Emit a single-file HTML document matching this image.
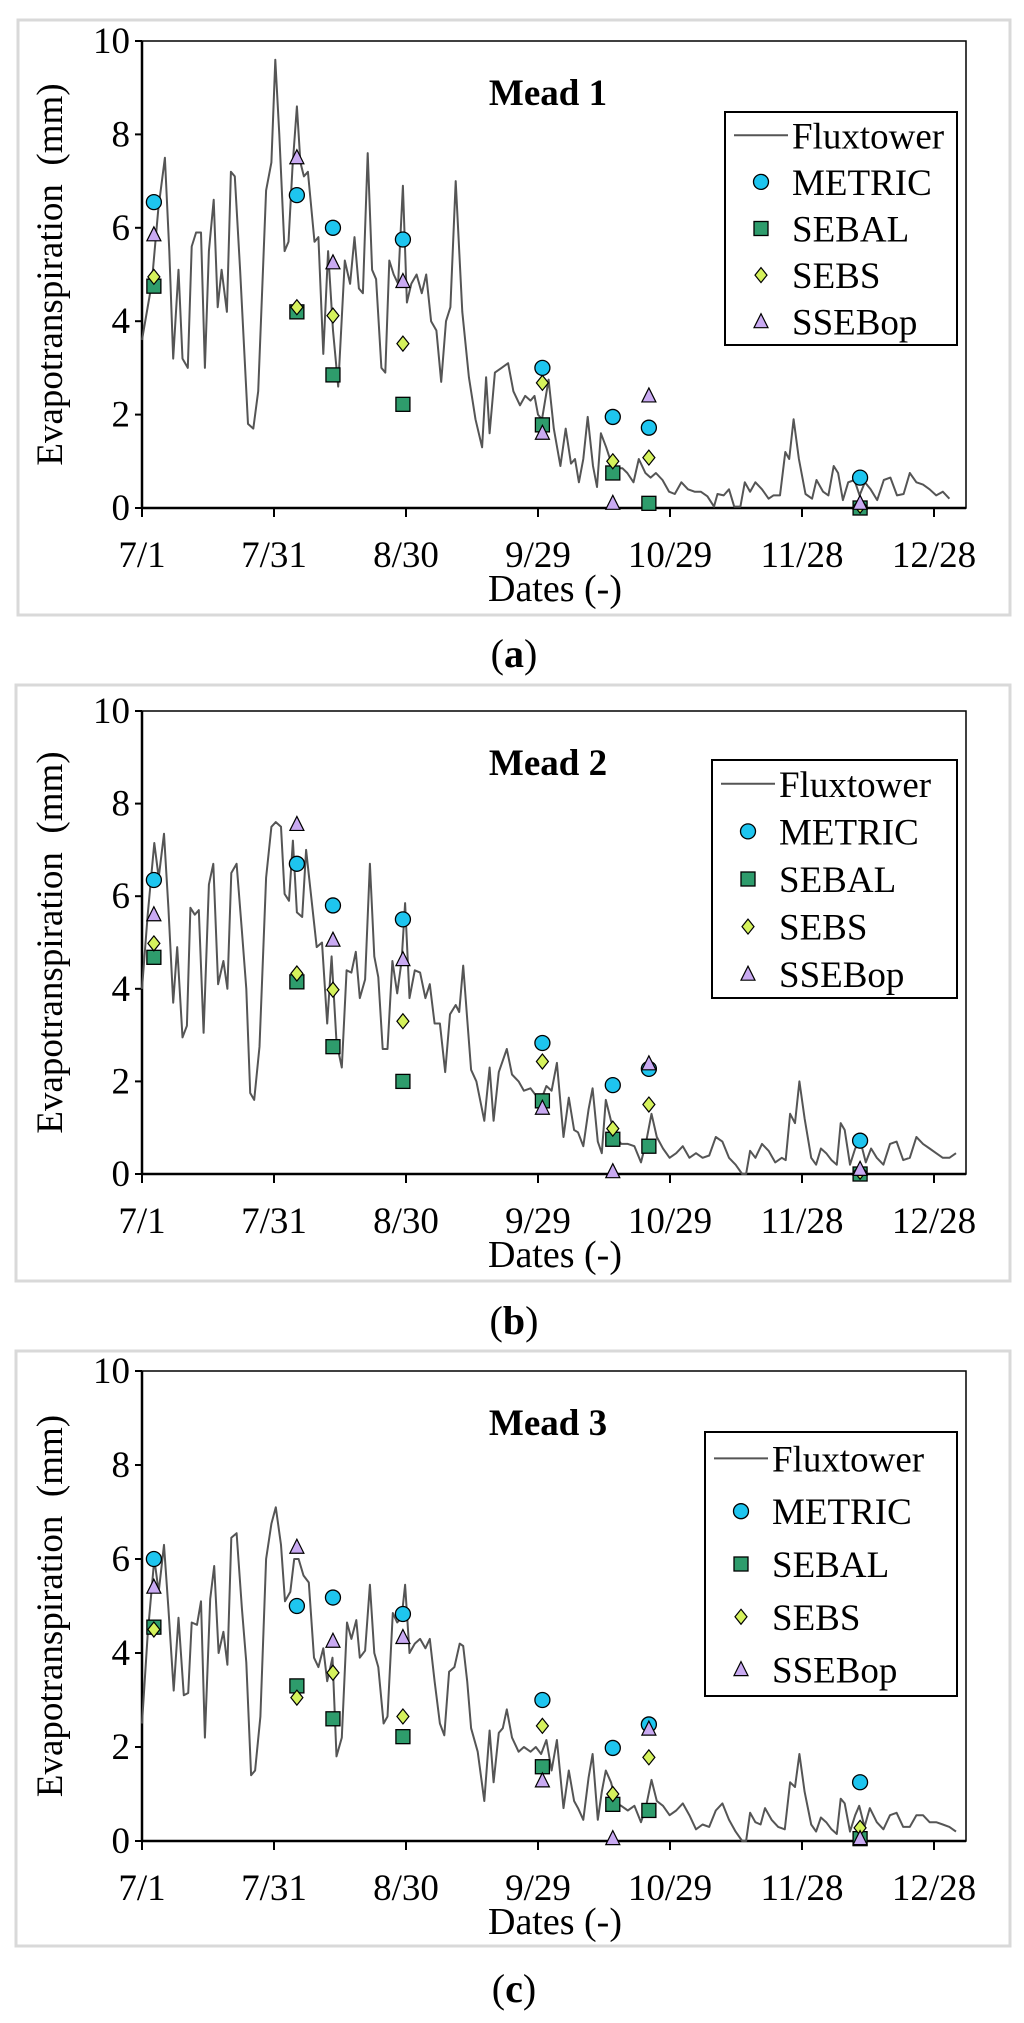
<!DOCTYPE html>
<html><head><meta charset="utf-8"><style>
html,body{margin:0;padding:0;background:#fff;}
svg{display:block;font-family:"Liberation Serif",serif;}
</style></head>
<body>
<svg id="fig" width="1024" height="2023" viewBox="0 0 1024 2023" xmlns="http://www.w3.org/2000/svg"></svg>
<script>
// ---- data ----
const xTickLabels = ["7/1","7/31","8/30","9/29","10/29","11/28","12/28"];
const yTickLabels = ["0","2","4","6","8","10"];
const modelDays = [2.7,35.2,43.4,59.3,91,107,115.2,163.2];
const seriesNames = ["METRIC","SEBAL","SEBS","SSEBop"];

const fluxA = [[0,3.6],[2.2,4.8],[3.7,6.4],[5.2,7.5],[6.2,5.5],[7.1,3.2],[8.3,5.1],[9.2,3.2],[10.4,3.0],[11.3,5.6],[12.3,5.9],[13.4,5.9],[14.3,3.0],[15.2,5.5],[16.3,6.6],[17.2,4.3],[18.1,5.1],[19.3,4.2],[20.2,7.2],[21.1,7.1],[22.3,5.1],[24.1,1.8],[25.3,1.7],[26.4,2.5],[28.2,6.8],[29.4,7.4],[30.3,9.6],[31.2,8.0],[32.4,5.5],[33.3,5.7],[34.2,7.3],[35.2,8.6],[36,7.4],[36.8,7.1],[37.7,7.2],[39.2,5.7],[40.1,5.8],[41.2,3.3],[42.3,5.5],[43.4,3.8],[44.6,2.6],[46.1,5.3],[47.3,4.8],[48.3,5.8],[49.3,4.7],[50.2,4.6],[51.3,7.6],[52.3,5.1],[53.2,4.9],[54.4,3.0],[55.3,2.9],[56.2,5.3],[57.2,5.0],[58.2,4.8],[59.3,6.9],[60.2,4.4],[61.2,4.8],[62.4,5.0],[63.6,4.6],[64.6,5.0],[65.7,4.0],[66.9,3.8],[68,2.7],[69.1,4.0],[70.1,4.3],[71.3,7.0],[72.8,4.2],[74.3,2.8],[75.8,1.9],[77.3,1.3],[78.2,2.8],[79.0,1.6],[80.2,2.9],[81.7,3.0],[83.2,3.1],[84.4,2.5],[85.9,2.2],[87.1,2.4],[88.3,2.3],[89.2,2.4],[90.0,2.0],[90.9,1.9],[92.4,2.75],[93.6,1.7],[95.1,0.9],[96.3,1.7],[97.5,0.95],[98.4,1.05],[99.3,0.55],[100.3,1.05],[101.3,1.95],[102.5,0.9],[103.4,0.45],[104.3,1.6],[105.5,1.3],[106.7,0.95],[107.9,0.85],[109.2,0.85],[110.3,0.75],[111.7,0.55],[112.9,1.05],[114.4,0.75],[115.6,0.65],[116.8,0.75],[118.3,0.6],[119.8,0.35],[121.1,0.3],[122.6,0.55],[124.1,0.4],[125.6,0.35],[127,0.35],[128.5,0.25],[130,0.03],[130.8,0.3],[132.2,0.27],[133.4,0.4],[134.6,0.03],[136,0.03],[137,0.55],[138.2,0.35],[139.4,0.55],[140.9,0.4],[142.4,0.2],[143.5,0.27],[145,0.27],[146.2,1.2],[147.1,1.05],[148.1,1.9],[149.3,1.05],[150.8,0.3],[152.3,0.2],[153.3,0.6],[154.8,0.35],[156,0.27],[157.2,0.9],[158.2,0.75],[159.3,0.17],[160.5,0.55],[161.9,0.6],[163.1,0.27],[164.3,0.55],[165.6,0.4],[167.1,0.17],[168.6,0.6],[170.1,0.65],[171.6,0.27],[173.1,0.3],[174.5,0.75],[176,0.55],[177.5,0.5],[179,0.4],[180.5,0.27],[182,0.35],[183.5,0.2]];
const fluxB = [[0,4.0],[1.3,5.6],[2.8,7.15],[3.8,6.4],[5,7.35],[6,5.75],[7.1,3.7],[8,4.9],[9.2,2.95],[10.2,3.2],[11,5.75],[12,5.6],[12.9,5.7],[14,3.05],[15.2,6.25],[16.2,6.7],[17.3,4.1],[18.5,4.6],[19.4,4.0],[20.3,6.5],[21.5,6.7],[22.7,5.25],[23.7,4.0],[24.6,1.75],[25.5,1.6],[26.7,2.75],[28.2,6.4],[29.4,7.5],[30.4,7.6],[31.6,7.5],[32.4,6.05],[33.4,5.9],[34.3,7.2],[35.2,5.65],[36.4,5.55],[37.3,7.0],[38.5,5.95],[39.7,4.9],[40.9,5.0],[42.1,3.25],[43.1,4.7],[44.2,2.85],[45.4,2.3],[46.5,4.4],[47.6,4.35],[48.6,4.8],[49.5,3.8],[50.7,4.2],[51.8,6.7],[52.8,4.7],[53.7,4.25],[54.7,2.7],[55.8,2.7],[56.9,4.6],[58,3.9],[59,4.6],[59.8,5.85],[60.8,3.8],[62,4.4],[63.2,4.35],[64.4,3.8],[65.4,4.1],[66.5,3.25],[67.7,3.25],[68.9,2.2],[70,3.45],[71.3,3.65],[72.1,3.5],[73,4.5],[73.9,3.35],[74.8,2.25],[76,2.0],[77.8,1.15],[79,2.3],[79.9,1.15],[81.1,2.2],[82.9,2.7],[84.1,2.15],[85.6,2.0],[86.8,1.8],[88.3,1.85],[89.5,1.7],[90.7,1.6],[91.9,1.9],[93.1,1.8],[94.3,2.4],[95.8,0.8],[97,1.65],[98.2,0.95],[99.1,0.9],[100.3,0.6],[101.5,1.4],[102.4,1.85],[103.6,0.7],[104.5,0.45],[105.4,1.6],[106.6,1.15],[107.8,0.8],[108.9,0.65],[110.4,0.65],[111.9,0.6],[113.4,0.25],[114.6,0.7],[115.8,1.3],[117,0.8],[118.4,0.55],[119.9,0.35],[121.4,0.45],[122.9,0.6],[124.4,0.35],[125.9,0.45],[127.4,0.35],[128.9,0.4],[130.4,0.8],[131.9,0.7],[133.4,0.35],[134.9,0.2],[136.4,0],[137.3,0],[138.2,0.5],[139.4,0.35],[140.9,0.65],[142.4,0.5],[143.9,0.25],[145.4,0.35],[146.3,0.3],[147.3,1.3],[148.4,1.1],[149.4,2.0],[150.6,1.2],[152.1,0.35],[153.2,0.2],[154.3,0.55],[155.5,0.45],[156.7,0.3],[157.9,0.2],[158.8,1.1],[159.7,0.95],[160.9,0.2],[162.1,0.55],[163.3,0.7],[164.5,0.25],[165.7,0.55],[167,0.35],[168.5,0.2],[170,0.65],[171.5,0.7],[173,0.3],[174.5,0.35],[176,0.8],[177.5,0.65],[179,0.55],[180.5,0.45],[182,0.35],[183.5,0.35],[185,0.45]];
const fluxC = [[0,2.5],[1.3,4.4],[2.8,6.0],[3.8,5.3],[5,6.3],[6,4.95],[7.2,3.2],[8.3,4.75],[9.5,3.1],[10.5,3.15],[11.3,4.65],[12.5,4.6],[13.4,5.1],[14.3,2.2],[15.5,5.15],[16.4,5.85],[17.4,4.0],[18.5,4.45],[19.4,3.75],[20.3,6.45],[21.5,6.55],[22.7,4.95],[23.7,3.8],[24.8,1.4],[25.7,1.5],[26.9,2.65],[28.2,6.0],[29.4,6.75],[30.4,7.1],[31.6,6.3],[32.5,5.1],[33.7,5.3],[34.6,6.0],[35.6,6.0],[36.7,5.65],[37.9,5.5],[39.1,3.9],[40.1,3.7],[41.2,4.1],[42.1,3.4],[43.3,3.9],[44.2,1.8],[45.4,2.2],[46.6,4.65],[47.6,4.3],[48.7,4.7],[49.5,3.9],[50.7,4.05],[51.8,5.45],[52.8,4.0],[53.7,3.7],[54.9,2.5],[55.8,2.65],[57,4.85],[58,4.65],[59,4.75],[59.8,5.45],[60.8,4.0],[62,4.2],[63.2,4.3],[64.4,4.1],[65.4,4.3],[66.5,3.4],[67.7,2.5],[68.7,2.25],[69.8,3.6],[71,3.7],[72.2,4.2],[73,4.15],[73.9,3.4],[74.8,2.4],[76.3,1.9],[77.8,0.85],[79,2.35],[79.9,1.25],[81.1,2.3],[82,2.4],[82.9,2.8],[84.1,2.2],[85.6,1.9],[86.8,2.0],[88.3,1.9],[89.5,2.0],[90.7,1.85],[91.9,2.15],[93.1,1.5],[94.3,2.15],[95.8,0.7],[97,1.5],[98.2,0.85],[99.1,0.7],[100.3,0.45],[101.5,1.35],[102.4,1.85],[103.6,0.45],[104.5,1.05],[105.4,1.5],[106.6,1.25],[107.8,0.8],[108.9,0.75],[110.4,0.65],[111.9,0.75],[113.4,0.4],[114.6,0.75],[115.8,1.3],[117,0.85],[118.4,0.75],[119.9,0.55],[121.4,0.65],[122.9,0.8],[124.4,0.55],[125.9,0.25],[127.4,0.35],[128.9,0.3],[130.4,0.65],[131.9,0.8],[133.4,0.45],[134.9,0.2],[136.4,0],[137.3,0],[138.2,0.6],[139.4,0.4],[140.6,0.35],[141.6,0.7],[143.1,0.45],[144.6,0.3],[146.1,0.25],[147.3,1.25],[148.4,1.15],[149.4,1.85],[150.6,1.05],[152.1,0.35],[153.2,0.2],[154.3,0.5],[155.5,0.4],[156.7,0.25],[157.9,0.15],[158.8,0.9],[159.7,0.8],[160.9,0.2],[162.1,0.55],[163,0.75],[164.2,0.3],[165.4,0.7],[167,0.4],[168.5,0.25],[170,0.55],[171.5,0.6],[173,0.3],[174.5,0.3],[176,0.55],[177.5,0.55],[179,0.4],[180.5,0.4],[182,0.35],[183.5,0.3],[185,0.2]];

const metricA = [6.55,6.7,6.0,5.75,3.0,1.95,1.72,0.65];
const sebalA  = [4.75,4.2,2.85,2.22,1.78,0.75,0.1,0.0];
const sebsA   = [4.95,4.3,4.12,3.52,2.68,1.0,1.08,0.05];
const ssebopA = [5.85,7.5,5.25,4.85,1.6,0.1,2.4,0.1];
const metricB = [6.35,6.7,5.8,5.5,2.83,1.92,2.27,0.72];
const sebalB  = [4.68,4.15,2.75,2.0,1.58,0.75,0.6,0.0];
const sebsB   = [4.98,4.33,3.98,3.3,2.43,0.98,1.5,0.05];
const ssebopB = [5.6,7.55,5.05,4.63,1.42,0.05,2.38,0.1];
const metricC = [6.0,5.0,5.18,4.83,3.0,1.98,2.48,1.25];
const sebalC  = [4.55,3.3,2.6,2.22,1.58,0.78,0.65,0.05];
const sebsC   = [4.5,3.05,3.58,2.65,2.45,1.0,1.78,0.28];
const ssebopC = [5.4,6.25,4.25,4.33,1.28,0.05,2.38,0.05];

// ---- drawing ----
const NS="http://www.w3.org/2000/svg";
const svg=document.getElementById('fig');
function mk(tag,attrs,parent){const e=document.createElementNS(NS,tag);for(const k in attrs)e.setAttribute(k,attrs[k]);(parent||svg).appendChild(e);return e;}
function txt(s,attrs,parent){const e=mk('text',attrs,parent);e.textContent=s;return e;}

const panels=[
 {id:'a',title:'Mead 1',box:[18,20,992,595],top:41,bot:508,leg:[725,112,232,233],lab:653,flux:fluxA,s:[metricA,sebalA,sebsA,ssebopA]},
 {id:'b',title:'Mead 2',box:[16,685,994,596],top:711,bot:1174,leg:[712,760,245,238],lab:1320,flux:fluxB,s:[metricB,sebalB,sebsB,ssebopB]},
 {id:'c',title:'Mead 3',box:[16,1351,994,595],top:1371,bot:1841,leg:[705,1432,252,264],lab:1988,flux:fluxC,s:[metricC,sebalC,sebsC,ssebopC]}
];
const L=142,R=966,PXDAY=4.4;
function marker(kind,cx,cy,g){
  let e;
  if(kind===0){e=mk('circle',{cx:cx,cy:cy,r:7.5,fill:'#1ec5ef',stroke:'#000','stroke-width':1.3},g);}
  else if(kind===1){e=mk('rect',{x:cx-7,y:cy-7,width:14,height:14,fill:'#2e9c6c',stroke:'#000','stroke-width':1.3},g);}
  else if(kind===2){e=mk('polygon',{points:`${cx},${cy-7.5} ${cx+6},${cy} ${cx},${cy+7.5} ${cx-6},${cy}`,fill:'#d5f25c',stroke:'#000','stroke-width':1.2},g);}
  else {e=mk('polygon',{points:`${cx},${cy-8} ${cx+7},${cy+6} ${cx-7},${cy+6}`,fill:'#c9aaf2',stroke:'#000','stroke-width':1.2},g);}
  return e;
}
panels.forEach(p=>{
  const g=mk('g',{});
  
  
  const X=d=>L+d*PXDAY;
  const Y=v=>p.bot-(v/10)*(p.bot-p.top);
  const fr=mk('rect',{x:p.box[0],y:p.box[1],width:p.box[2],height:p.box[3],fill:'none',stroke:'#d9d9d9','stroke-width':3},g);
  
  
  const pa=mk('rect',{x:L,y:p.top,width:R-L,height:p.bot-p.top,fill:'none',stroke:'#000','stroke-width':1.5},g);
  
  
  mk('line',{x1:L,y1:p.bot,x2:R,y2:p.bot,stroke:'#000','stroke-width':2.5},g);
  mk('line',{x1:L,y1:p.top,x2:L,y2:p.bot,stroke:'#000','stroke-width':2.5},g);
  yTickLabels.forEach(t=>{
    const y=Y(+t);
    mk('line',{x1:L-7,y1:y,x2:L,y2:y,stroke:'#000','stroke-width':2},g);
    const e=txt(t,{x:L-12,y:y+12,'text-anchor':'end','font-size':37},g);
    
    
  });
  xTickLabels.forEach((t,i)=>{
    const x=X(i*30);
    mk('line',{x1:x,y1:p.bot,x2:x,y2:p.bot+9,stroke:'#000','stroke-width':2},g);
    const e=txt(t,{x:x,y:p.bot+59,'text-anchor':'middle','font-size':37},g);
    
    
  });
  const xt=txt('Dates (-)',{x:555,y:p.bot+93,'text-anchor':'middle','font-size':38},g);
  
  
  const yc=(p.top+p.bot)/2;
  const yt=txt('Evapotranspiration\u00a0 (mm)',{x:0,y:0,'text-anchor':'middle','font-size':37,transform:`translate(62,${yc}) rotate(-90)`},g);
  
  
  const tt=txt(p.title,{x:548,y:p.top+64,'text-anchor':'middle','font-size':37,'font-weight':'bold'},g);
  
  
  // flux line
  const pl=mk('polyline',{points:p.flux.map(q=>X(q[0]).toFixed(1)+','+Y(q[1]).toFixed(1)).join(' '),fill:'none',stroke:'#555','stroke-width':2,'stroke-linejoin':'round'},g);
  
  
  // model markers (draw order: SEBAL, SEBS, METRIC, SSEBop roughly)
  [1,2,0,3].forEach(k=>{
    p.s[k].forEach((v,i)=>{
      const m=marker(k,X(modelDays[i]),Y(v),g);
      
      
    });
  });
  // legend
  const lg=mk('g',{},g);
  
  
  const [lx,ly,lw,lh]=p.leg;
  mk('rect',{x:lx,y:ly,width:lw,height:lh,fill:'#fff',stroke:'#000','stroke-width':2},lg);
  const step=lh/5;
  const names=['Fluxtower'].concat(seriesNames);
  names.forEach((n,i)=>{
    const cy=ly+step*(i+0.5);
    if(i===0){mk('line',{x1:lx+9,y1:cy,x2:lx+63,y2:cy,stroke:'#555','stroke-width':2},lg);}
    else {marker(i-1,lx+36,cy,lg);}
    const e=txt(n,{x:lx+67,y:cy+13,'font-size':37},lg);
    
    
  });
  // panel label
  const pl2=mk('text',{x:514,y:p.lab+14,'text-anchor':'middle','font-size':40},g);
  
  
  pl2.appendChild(document.createTextNode('('));
  const b=mk('tspan',{'font-weight':'bold'},pl2);b.textContent=p.id;
  pl2.appendChild(document.createTextNode(')'));
});
</script>
</body></html>
